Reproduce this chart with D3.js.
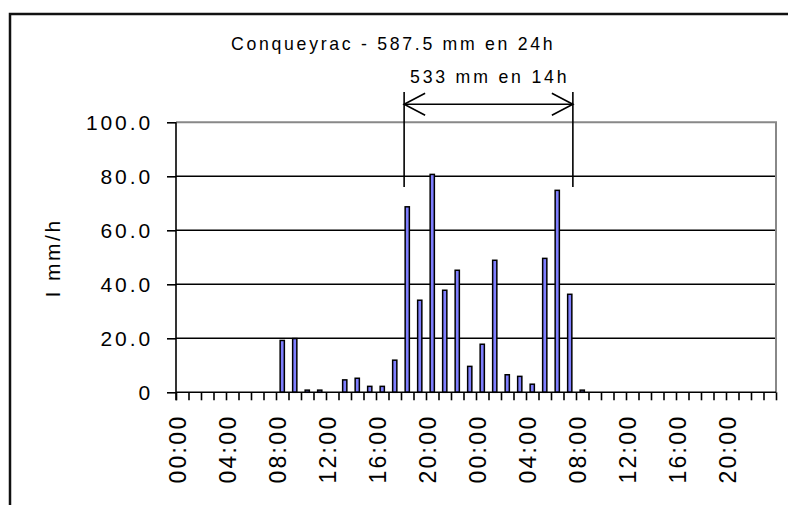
<!DOCTYPE html>
<html>
<head>
<meta charset="utf-8">
<script src="https://cdn.jsdelivr.net/npm/d3@7"></script>
<style>
  body { margin: 0; background: #fff; }
  svg { display: block; font-family: "Liberation Sans", Arial, sans-serif; }
</style>
</head>
<body>
<svg id="chart" width="788" height="505"></svg>
<script>
// hourly intensity, 48 hours starting at 00:00
var hours = d3.range(48);
var rain = [0, 0, 0, 0, 0, 0, 0, 0,
  19.2, 19.9, 0.8, 0.8, 0, 4.6, 5.2, 2.2, 2.2, 11.9,
  68.7, 34.1, 80.7, 37.8, 45.2, 9.6, 17.8, 48.9, 6.5, 5.9, 3.0, 49.6, 74.8, 36.3,
  0.8, 0, 0, 0, 0, 0, 0, 0, 0, 0, 0, 0, 0, 0, 0, 0];
var hourLabels = ["00:00", "04:00", "08:00", "12:00", "16:00", "20:00",
  "00:00", "04:00", "08:00", "12:00", "16:00", "20:00"];
var yTicks = [0, 20, 40, 60, 80, 100];
var yTickLabels = ["0", "20.0", "40.0", "60.0", "80.0", "100.0"];
var titleText = "Conqueyrac - 587.5 mm en 24h";
var spanText = "533 mm en 14h";
var spanHours = [18.25, 31.75];

var svg = d3.select("#chart");
// note: "top" is taken by window.top, so plot edges get their own names
var plotL = 176, plotR = 776, plotT = 122.3, plotB = 392.3;

var x = d3.scaleBand().domain(hours).range([plotL, plotR]).padding(0);
var xh = d3.scaleLinear().domain([0, 48]).range([plotL, plotR]);
var y = d3.scaleLinear().domain([0, 100]).range([plotB, plotT]);

// outer frame (only top and left visible)
svg.append("path")
  .attr("d", "M10,505 V14 H788")
  .attr("fill", "none").attr("stroke", "#111").attr("stroke-width", 2.5);

// grid lines
svg.append("g").selectAll("line")
  .data(yTicks.filter(function(d){ return d > 0 && d < 100; }))
  .join("line")
  .attr("x1", plotL).attr("x2", plotR)
  .attr("y1", function(d){ return y(d); }).attr("y2", function(d){ return y(d); })
  .attr("stroke", "#000").attr("stroke-width", 1.6);

// plot border top/right in grey
svg.append("path")
  .attr("d", "M" + plotL + "," + y(100) + " H" + plotR + " V" + plotB)
  .attr("fill", "none").attr("stroke", "#888").attr("stroke-width", 2);

// bars
var bw = 4.2;
svg.append("g").selectAll("rect")
  .data(rain.map(function(v, i){ return {h: i, v: v}; }).filter(function(d){ return d.v > 0; }))
  .join("rect")
  .attr("x", function(d){ return x(d.h) + x.bandwidth() / 2 - bw / 2; })
  .attr("y", function(d){ return y(d.v); })
  .attr("width", bw)
  .attr("height", function(d){ return y(0) - y(d.v); })
  .attr("fill", "#7f7fff")
  .attr("stroke", "#000").attr("stroke-width", 1.5);

// y axis
var yAxis = svg.append("g")
  .attr("transform", "translate(" + plotL + ",0)")
  .call(d3.axisLeft(y).tickValues(yTicks).tickSize(9)
    .tickFormat(function(d, i){ return yTickLabels[i]; }));
yAxis.select(".domain").remove();
yAxis.selectAll(".tick line").attr("stroke", "#000").attr("stroke-width", 1.6);
yAxis.selectAll(".tick text")
  .attr("x", -23).attr("dy", "7.5")
  .attr("font-size", 21).attr("letter-spacing", 2.9)
  .attr("font-family", "Liberation Sans, Arial, sans-serif")
  .attr("fill", "#000");
svg.append("line")
  .attr("x1", plotL).attr("x2", plotL).attr("y1", plotT).attr("y2", plotB + 8)
  .attr("stroke", "#000").attr("stroke-width", 1.6);

// x axis: a tick on every hour boundary
var xAxis = svg.append("g")
  .attr("transform", "translate(0," + plotB + ")")
  .call(d3.axisBottom(xh).tickValues(d3.range(49)).tickSize(8).tickFormat(""));
xAxis.select(".domain").attr("d", "M" + plotL + ",0H" + plotR).attr("stroke", "#000").attr("stroke-width", 1.6);
xAxis.selectAll(".tick line").attr("stroke", "#000").attr("stroke-width", 1.6);

svg.append("g").selectAll("text")
  .data(hourLabels)
  .join("text")
  .attr("transform", function(d, i){
    var cx = x(i * 4) + x.bandwidth() / 2 + 4;
    return "translate(" + cx + ",414.5) rotate(-90)";
  })
  .attr("text-anchor", "end")
  .attr("font-size", 23).attr("letter-spacing", 2.3)
  .text(function(d){ return d; });

// y title
svg.append("text")
  .attr("transform", "translate(60,258) rotate(-90)")
  .attr("text-anchor", "middle")
  .attr("font-size", 21).attr("letter-spacing", 2.5)
  .text("I mm/h");

// titles
svg.append("text")
  .attr("x", 231).attr("y", 50)
  .attr("font-size", 17.7).attr("letter-spacing", 2.7)
  .text(titleText);

var ax0 = xh(spanHours[0]), ax1 = xh(spanHours[1]);
svg.append("text")
  .attr("x", 410).attr("y", 83)
  .attr("font-size", 17.7).attr("letter-spacing", 2.8)
  .text(spanText);

// span marker with double arrow
var mark = svg.append("g").attr("stroke", "#000").attr("stroke-width", 1.6).attr("fill", "none");
[ax0, ax1].forEach(function(px){
  mark.append("line").attr("x1", px).attr("x2", px).attr("y1", 92).attr("y2", 187);
});
var ay = 104.3;
mark.append("line").attr("x1", ax0).attr("x2", ax1).attr("y1", ay).attr("y2", ay);
mark.append("path").attr("d", "M" + (ax0 + 21) + "," + (ay - 11) + " L" + ax0 + "," + ay + " L" + (ax0 + 21) + "," + (ay + 11));
mark.append("path").attr("d", "M" + (ax1 - 21) + "," + (ay - 11) + " L" + ax1 + "," + ay + " L" + (ax1 - 21) + "," + (ay + 11));
</script>
</body>
</html>
